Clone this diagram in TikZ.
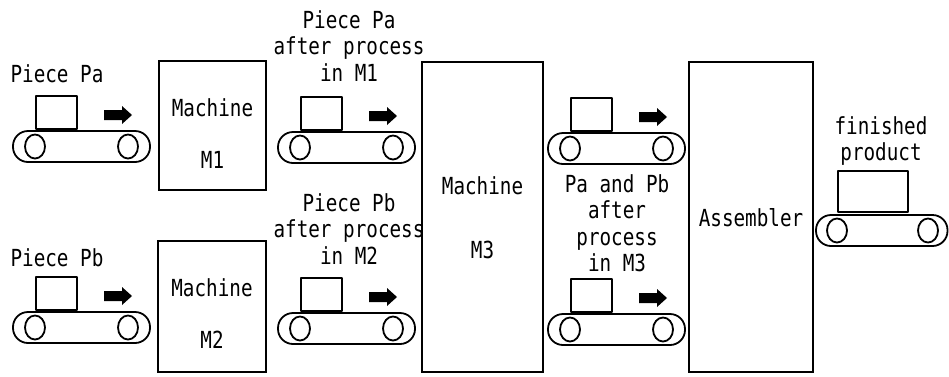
\documentclass[tikz,border=0pt]{standalone}
\usepackage{fontspec}
\newfontfamily\plotfont[FakeStretch=0.82]{DejaVu Sans Mono}
\tikzset{
  ln/.style={line width=1.8pt, line join=round},
  machine/.style={draw, line width=1.8pt, inner sep=0pt},
  lbl/.style={font=\plotfont\fontsize{23.5pt}{26.5pt}\selectfont, inner sep=0pt, align=center, anchor=center},
  conveyor/.pic={
    \draw[ln, rounded corners=15pt] (0,0) rectangle (137,31);
    \draw[ln] (22,15.5) ellipse [x radius=10pt, y radius=12pt];
    \draw[ln] (115,15.5) ellipse [x radius=10pt, y radius=12pt];
    \draw[ln] (23,-35) rectangle (64,-2);
    \fill (91,-21) -- (109,-21) -- (109,-25) -- (119,-16) -- (109,-7) -- (109,-11) -- (91,-11) -- cycle;
  }
}
\begin{document}
\begin{tikzpicture}[x=1pt, y=-1pt]
\useasboundingbox (0,0) rectangle (949,376);
% conveyors
\pic (ca) at (13,131) {conveyor};
\pic (cb) at (13,312) {conveyor};
\pic (cc) at (278,132) {conveyor};
\pic (cd) at (278,313) {conveyor};
\pic (ce) at (548,133) {conveyor};
\pic (cf) at (548,314) {conveyor};
% finished product conveyor
\draw[ln, rounded corners=15pt] (816,215) rectangle (947.5,246);
\draw[ln] (837,230.5) ellipse [x radius=10pt, y radius=12pt];
\draw[ln] (928,230.5) ellipse [x radius=10pt, y radius=12pt];
\draw[ln] (838,171) rectangle (908,212);
% machines
\node[machine, minimum width=107pt, minimum height=129pt] (m1) at (212.5,125.5) {};
\node[machine, minimum width=108pt, minimum height=131pt] (m2) at (212,306.5) {};
\node[machine, minimum width=121pt, minimum height=310pt] (m3) at (482.5,217) {};
\node[machine, minimum width=124pt, minimum height=310pt] (as) at (751,217) {};
% labels
\node[lbl] (ta) at (57,74) {Piece Pa};
\node[lbl] (tb) at (57,258) {Piece Pb};
\node[lbl] (m1a) at (212.5,108) {Machine};
\node[lbl] (m1b) at (212.5,160) {M1};
\node[lbl] (m2a) at (212,288) {Machine};
\node[lbl] (m2b) at (212,340) {M2};
\node[lbl] (m3a) at (482.5,186) {Machine};
\node[lbl] (m3b) at (482.5,250) {M3};
\node[lbl] (asa) at (751,218) {Assembler};
\node[lbl] (tc) at (349,46) {Piece Pa\\after process\\in M1};
\node[lbl] (td) at (349,229) {Piece Pb\\after process\\in M2};
\node[lbl] (te) at (617,223) {Pa and Pb\\after\\process\\in M3};
\node[lbl] (tf) at (881,141) {finished\\product};
\end{tikzpicture}
\end{document}
